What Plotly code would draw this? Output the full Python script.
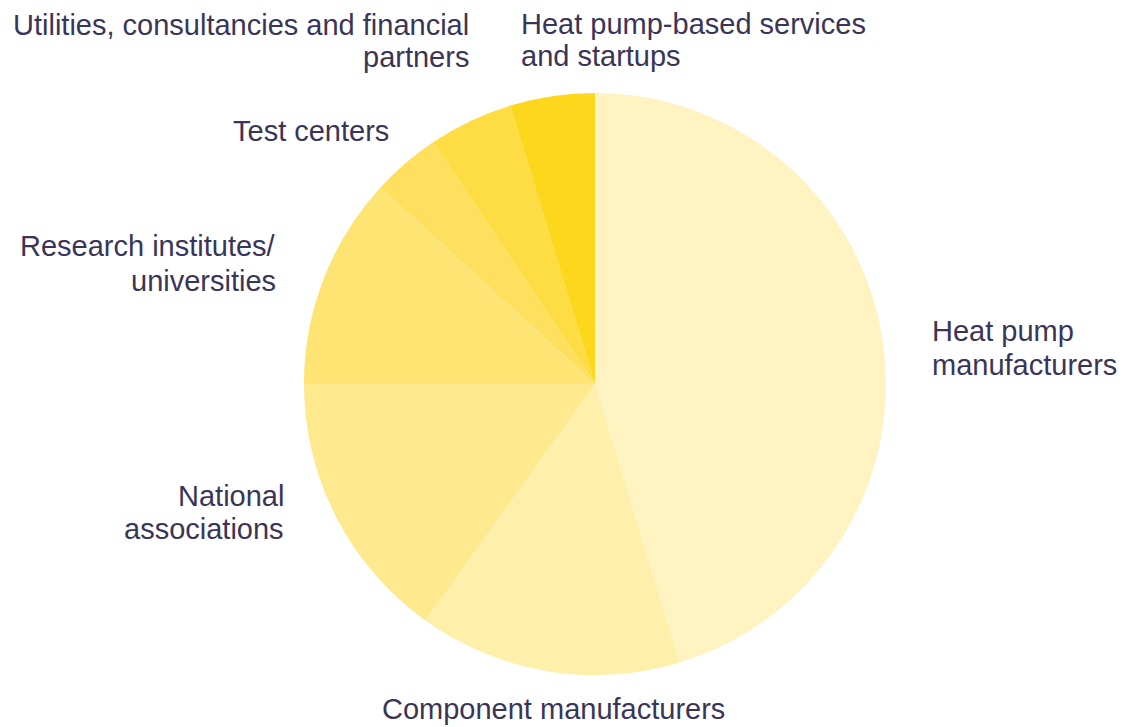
import plotly.graph_objects as go

categories = [
    "Heat pump manufacturers",
    "Component manufacturers",
    "National associations",
    "Research institutes/ universities",
    "Test centers",
    "Utilities, consultancies and financial partners",
    "Heat pump-based services and startups",
]
values = [45.3, 14.6, 15.1, 11.8, 3.8, 4.7, 4.7]
colors = ["#FFF3C2", "#FEEFAB", "#FEE98F", "#FEE472", "#FEE05E", "#FDDC44", "#FDD71C"]

# label lines as shown in the reference
label_lines = [
    ["Heat pump", "manufacturers"],
    ["Component manufacturers"],
    ["National", "associations"],
    ["Research institutes/", "universities"],
    ["Test centers"],
    ["Utilities, consultancies and financial", "partners"],
    ["Heat pump-based services", "and startups"],
]

# The page has an 8px body margin: figure pixels = page pixels - 8
OFF = 8
W, H = 1118, 719
cx, cy, r = 595 - OFF, 384 - OFF, 291

fig = go.Figure(go.Pie(
    labels=categories,
    values=values,
    sort=False,
    direction="clockwise",
    rotation=0,
    marker=dict(colors=colors, line=dict(width=0)),
    textinfo="none",
    hoverinfo="label+percent",
    domain=dict(x=[(cx - r) / W, (cx + r) / W], y=[1 - (cy + r) / H, 1 - (cy - r) / H]),
    showlegend=False,
))

# label placement in page pixels: (anchor x, [line center y...], xanchor)
label_pos = [
    (931, [331, 365], "left"),
    (553, [709], "center"),
    (285, [496, 529], "right"),
    (277, [246, 281], "right"),
    (390, [131], "right"),
    (470, [25, 57], "right"),
    (520, [24, 56], "left"),
]

for lines, (px, ys, xa) in zip(label_lines, label_pos):
    for txt, py in zip(lines, ys):
        fig.add_annotation(
            x=(px - OFF) / W, y=1 - (py - OFF) / H, xref="paper", yref="paper",
            text=txt, showarrow=False, xanchor=xa, yanchor="middle", align=xa,
            borderpad=0,
            font=dict(family="Liberation Sans, Arial, sans-serif", size=29, color="#3A3557"),
        )

fig.update_layout(
    width=W, height=H,
    margin=dict(l=0, r=0, t=0, b=0),
    paper_bgcolor="white",
    plot_bgcolor="white",
)

fig.write_html("out.html")
